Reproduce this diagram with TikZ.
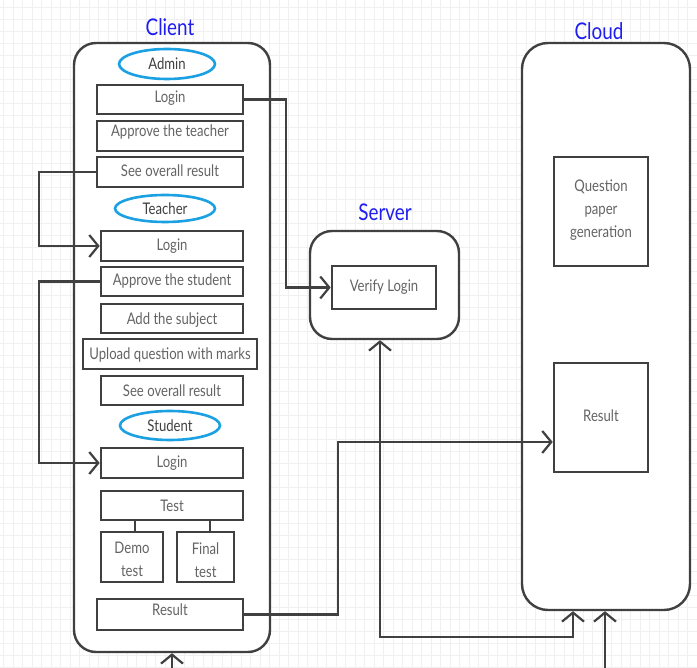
\documentclass[tikz,border=0pt]{standalone}
\usepackage{fontspec}
\setmainfont{Lato}[FakeStretch=0.82]
\usetikzlibrary{arrows.meta,shapes.geometric}
\definecolor{edge}{HTML}{404040}
\definecolor{txt}{HTML}{646464}
\definecolor{ell}{HTML}{1BA1E2}
\definecolor{ttl}{HTML}{1E1EF0}
\definecolor{gridc}{HTML}{F0F0F0}
\newcommand{\lines}[1]{\begin{tabular}{@{}c@{}}#1\end{tabular}}
\newsavebox{\shbox}
\newcommand{\shiftup}[2]{\sbox{\shbox}{#2}\raisebox{#1}[\ht\shbox][\dp\shbox]{\usebox{\shbox}}}
\tikzset{
  box/.style={draw=edge,line width=2.6pt,fill=white,inner sep=0pt,text=txt,font=\fontsize{16}{23}\selectfont,align=center},
  group/.style={draw=edge,line width=2.4pt,fill=white,rounded corners=22pt,inner sep=0pt},
  role/.style={ellipse,draw=ell,line width=2.6pt,fill=white,inner sep=0pt,text=edge,font=\fontsize{16}{23}\selectfont},
  title/.style={text=ttl,font=\fontsize{23}{26}\selectfont,inner sep=0pt},
  conn/.style={draw=edge,line width=2.2pt},
  tip/.style={-{Straight Barb[length=9pt,width=22pt,line width=2.2pt]}},
  tips/.style={{Straight Barb[length=9pt,width=22pt,line width=2.2pt]}-{Straight Barb[length=9pt,width=22pt,line width=2.2pt]}}
}
\begin{document}
\begin{tikzpicture}[x=1pt,y=-1pt]
\useasboundingbox (0,0) rectangle (697,668);
\fill[white] (0,0) rectangle (697,668);
\foreach \x in {3.7,13.2,...,697} \draw[gridc,line width=0.8pt] (\x,0) -- (\x,668);
\foreach \y in {7.7,19.7,...,668} \draw[gridc,line width=0.8pt] (0,\y) -- (697,\y);

% groups
\node[group,minimum width=196pt,minimum height=609pt] (client) at (172,347.5) {};
\node[group,minimum width=149pt,minimum height=108pt] (server) at (384.5,285) {};
\node[group,minimum width=168pt,minimum height=567pt,rounded corners=26pt] (cloud) at (606,326.5) {};
\node[title] (tclient) at (170,27) {Client};
\node[title] (tserver) at (385,212) {Server};
\node[title] (tcloud) at (599,31) {Cloud};

% admin
\node[role,minimum width=96pt,minimum height=30pt] (admin) at (167,64) {Admin};
\node[box,minimum width=146pt,minimum height=29pt] (aLogin) at (170,99.5) {\shiftup{1pt}{Login}};
\node[box,minimum width=146pt,minimum height=30pt] (aAppr) at (170,136) {\shiftup{4pt}{Approve the teacher}};
\node[box,minimum width=146pt,minimum height=30pt] (aSee) at (170,172) {\shiftup{1pt}{See overall result}};
% teacher
\node[role,minimum width=100pt,minimum height=27pt] (teacher) at (165,208.5) {Teacher};
\node[box,minimum width=142pt,minimum height=30pt] (tLogin) at (172,246) {Login};
\node[box,minimum width=142pt,minimum height=29pt] (tAppr) at (172,281.5) {\shiftup{1pt}{Approve the student}};
\node[box,minimum width=142pt,minimum height=29pt] (tAdd) at (172,318.5) {\shiftup{-2pt}{Add the subject}};
\node[box,minimum width=174pt,minimum height=30pt] (tUpl) at (170,354) {\shiftup{-1pt}{Upload question with marks}};
\node[box,minimum width=142pt,minimum height=29pt] (tSee) at (172,390.5) {See overall result};
% student
\node[role,minimum width=100pt,minimum height=29pt] (student) at (170,425.5) {Student};
\node[box,minimum width=142pt,minimum height=30pt] (sLogin) at (172,463) {Login};
\node[box,minimum width=142pt,minimum height=29pt] (test) at (172,505.5) {Test};
\node[box,minimum width=62pt,minimum height=50pt] (demo) at (132,557) {\shiftup{-3pt}{\lines{Demo\\test}}};
\node[box,minimum width=57pt,minimum height=50pt] (final) at (205.5,557) {\shiftup{-4pt}{\lines{Final\\test}}};
\node[box,minimum width=146pt,minimum height=31pt] (cResult) at (170,614.5) {\shiftup{5pt}{Result}};

% server / cloud contents
\node[box,minimum width=104pt,minimum height=43pt] (verify) at (384,287.5) {Verify Login};
\node[box,minimum width=94pt,minimum height=109pt] (qpg) at (601,211.5) {\shiftup{2pt}{\lines{Question\\paper\\generation}}};
\node[box,minimum width=94pt,minimum height=109pt] (rResult) at (601,417.5) {\shiftup{2pt}{Result}};

% connectors
\draw[conn] ([xshift=3pt]demo.north) -- ([xshift=3pt]demo.north |- test.south);
\draw[conn] ([xshift=4.5pt]final.north) -- ([xshift=4.5pt]final.north |- test.south);
\draw[conn,tip] (aLogin.east) -- ++(42,0) |- (verify.west);
\draw[conn,tip] (aSee.west) -- ++(-57,0) |- (tLogin.west);
\draw[conn,tip] (tAppr.west) -- ++(-61,0) |- (sLogin.west);
\draw[conn,tip] (cResult.east) -- ++(94,0) |- ([yshift=-24.5pt]rResult.west);
\draw[conn,tips] ([xshift=-4.5pt]server.south) -- ++(0,297) -| ([xshift=-33pt]cloud.south);
\coordinate (cin) at (605,668);
\coordinate (clin) at (172,668);
\draw[conn,tip] (cin) -- (cin |- cloud.south);
\draw[conn,tip] (clin) -- (client.south);
\end{tikzpicture}
\end{document}
